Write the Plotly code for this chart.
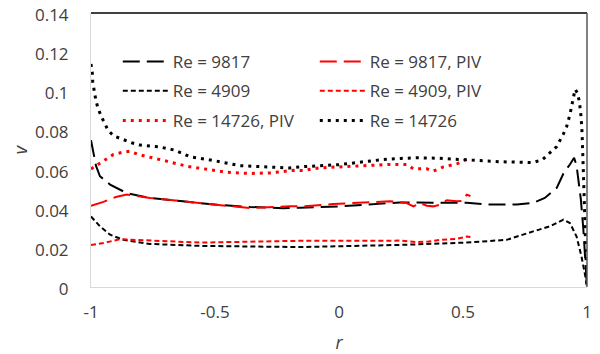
import plotly.graph_objects as go

# ---------------- data ----------------
r_14726 = [-1, -0.995, -0.993, -0.988, -0.981, -0.972, -0.957, -0.931, -0.907, -0.871, -0.836,
           -0.802, -0.766, -0.73, -0.695, -0.661, -0.6, -0.5, -0.4, -0.3, -0.2, -0.145, -0.077,
           0.0, 0.1, 0.177, 0.25, 0.313, 0.4, 0.515, 0.569, 0.65, 0.72, 0.782, 0.82, 0.843,
           0.878, 0.904, 0.918, 0.931, 0.942, 0.952, 0.962, 0.970, 0.976, 0.980, 0.985, 0.990,
           0.995, 1.0]
v_14726 = [0.114, 0.1096, 0.1048, 0.1001, 0.0959, 0.0913, 0.0868, 0.080, 0.0771, 0.0754, 0.0737,
           0.0725, 0.072, 0.0717, 0.0708, 0.0699, 0.0665, 0.0645, 0.062, 0.0613, 0.0608, 0.0615,
           0.062, 0.0625, 0.064, 0.0651, 0.0657, 0.066, 0.0658, 0.065, 0.0643, 0.064, 0.0638,
           0.0636, 0.065, 0.0677, 0.0718, 0.078, 0.082, 0.088, 0.094, 0.101, 0.099, 0.094, 0.087,
           0.079, 0.06, 0.04, 0.02, 0.0]

r_9817 = [-1, -0.99, -0.98, -0.964, -0.923, -0.856, -0.762, -0.629, -0.493, -0.359, -0.226,
          -0.157, 0.0, 0.246, 0.515, 0.6, 0.717, 0.783, 0.83, 0.878, 0.905, 0.931, 0.948, 0.958,
          0.966, 0.975, 0.985, 0.993, 1.0]
v_9817 = [0.075, 0.068, 0.062, 0.0566, 0.0523, 0.048, 0.0455, 0.0438, 0.042, 0.0409, 0.0403,
          0.0405, 0.0412, 0.0432, 0.043, 0.0422, 0.0422, 0.043, 0.0455, 0.0506, 0.058, 0.0626,
          0.066, 0.062, 0.055, 0.045, 0.03, 0.015, 0.0]

r_4909 = [-1, -0.964, -0.923, -0.87, -0.762, -0.56, -0.157, 0.246, 0.515, 0.676, 0.783, 0.85,
          0.905, 0.931, 0.958, 0.978, 0.996, 1.0]
v_4909 = [0.036, 0.031, 0.0267, 0.0241, 0.022, 0.021, 0.0204, 0.0215, 0.0227, 0.0241, 0.0284,
          0.031, 0.0344, 0.0327, 0.0258, 0.0155, 0.0036, 0.0]

r_9817_piv = [-1, -0.95, -0.9, -0.856, -0.762, -0.56, -0.359, -0.198, -0.144, -0.024, 0.112,
              0.206, 0.273, 0.3, 0.327, 0.354, 0.38, 0.407, 0.434, 0.475, 0.5, 0.515, 0.53]
v_9817_piv = [0.0415, 0.0435, 0.046, 0.0472, 0.0455, 0.0429, 0.0403, 0.0412, 0.0412, 0.0424,
              0.0434, 0.0438, 0.0429, 0.0412, 0.0429, 0.0415, 0.0412, 0.042, 0.0443, 0.0438,
              0.044, 0.0472, 0.0465]

r_4909_piv = [-1, -0.95, -0.883, -0.762, -0.56, -0.157, 0.246, 0.313, 0.36, 0.407, 0.475, 0.515,
              0.53]
v_4909_piv = [0.0215, 0.0225, 0.0244, 0.0237, 0.0227, 0.0236, 0.0237, 0.0229, 0.0232, 0.0241,
              0.0246, 0.0258, 0.0255]

r_14726_piv = [-1, -0.964, -0.91, -0.87, -0.843, -0.809, -0.775, -0.695, -0.614, -0.533, -0.453,
               -0.359, -0.278, -0.184, -0.144, -0.077, 0.004, 0.112, 0.206, 0.273, 0.3, 0.354,
               0.38, 0.421, 0.475, 0.501, 0.531]
v_14726_piv = [0.0603, 0.0634, 0.0677, 0.0689, 0.0694, 0.0677, 0.0668, 0.0643, 0.0617, 0.060,
               0.0586, 0.058, 0.0583, 0.0596, 0.0595, 0.0609, 0.0614, 0.0622, 0.0626, 0.0626,
               0.0604, 0.0604, 0.0592, 0.0614, 0.0629, 0.0643, 0.0665]

x_ticks = [-1, -0.5, 0, 0.5, 1]
x_ticklabels = ["-1", "-0.5", "0", "0.5", "1"]
y_ticks = [0, 0.02, 0.04, 0.06, 0.08, 0.1, 0.12, 0.14]
y_ticklabels = ["0", "0.02", "0.04", "0.06", "0.08", "0.1", "0.12", "0.14"]

# ---------------- figure ----------------
FONT = "Open Sans"
LONG = "17px,7px"
SHORT = "5px,3px"
DOT = "3px,5px"
TXT = "#404040"

fig = go.Figure()
fig.add_trace(go.Scatter(x=r_9817, y=v_9817, mode="lines", name="Re = 9817",
                         line=dict(color="black", width=2, dash=LONG), legend="legend"))
fig.add_trace(go.Scatter(x=r_9817_piv, y=v_9817_piv, mode="lines", name="Re = 9817, PIV",
                         line=dict(color="#FF0000", width=2, dash=LONG), legend="legend"))
fig.add_trace(go.Scatter(x=r_4909, y=v_4909, mode="lines", name="Re = 4909",
                         line=dict(color="black", width=2, dash=SHORT), legend="legend2"))
fig.add_trace(go.Scatter(x=r_4909_piv, y=v_4909_piv, mode="lines", name="Re = 4909, PIV",
                         line=dict(color="#FF0000", width=2, dash=SHORT), legend="legend2"))
fig.add_trace(go.Scatter(x=r_14726_piv, y=v_14726_piv, mode="lines", name="Re = 14726, PIV",
                         line=dict(color="#FF0000", width=3, dash=DOT), legend="legend3"))
fig.add_trace(go.Scatter(x=r_14726, y=v_14726, mode="lines", name="Re = 14726",
                         line=dict(color="black", width=3, dash=DOT), legend="legend3"))

leg_common = dict(orientation="h", x=0.054, xanchor="left", yanchor="middle",
                  entrywidth=137, entrywidthmode="pixels", itemwidth=45,
                  bgcolor="rgba(0,0,0,0)", font=dict(family=FONT, size=17, color=TXT))
# page body has an 8px default margin, so the figure is drawn 8px smaller
fig.update_layout(
    width=592, height=346,
    margin=dict(l=83, r=13, t=5, b=67),
    paper_bgcolor="white", plot_bgcolor="white",
    font=dict(family=FONT, size=17, color=TXT),
    legend=dict(y=0.821, **leg_common),
    legend2=dict(y=0.715, **leg_common),
    legend3=dict(y=0.606, **leg_common),
    xaxis=dict(range=[-1, 1], tickvals=x_ticks, ticktext=x_ticklabels, automargin=False,
               showgrid=False, zeroline=False, showline=True, linecolor="#D9D9D9", linewidth=1,
               ticks="", ticklabelstandoff=10, ticklabeloverflow="allow",
               tickfont=dict(family=FONT, size=17, color=TXT),
               title=dict(text="<i>r</i>", font=dict(family=FONT, size=18, color=TXT),
                          standoff=15)),
    yaxis=dict(range=[0, 0.14], tickvals=y_ticks, ticktext=y_ticklabels, automargin=False,
               showgrid=False, zeroline=False, showline=True, linecolor="#D9D9D9", linewidth=1,
               ticks="", ticklabelstandoff=18, ticklabelshift=2, ticklabeloverflow="allow",
               tickfont=dict(family=FONT, size=17, color=TXT),
               title=dict(text="<i>v</i>", font=dict(family=FONT, size=18, color=TXT),
                          standoff=6)),
)
# plot-area border (top and right)
fig.add_shape(type="line", xref="x domain", yref="y domain", x0=0, x1=1, y0=1, y1=1,
              line=dict(color="black", width=1.5))
fig.add_shape(type="line", xref="x domain", yref="y domain", x0=1, x1=1, y0=0, y1=1,
              line=dict(color="#595959", width=1.5))

fig.write_html("out.html")
